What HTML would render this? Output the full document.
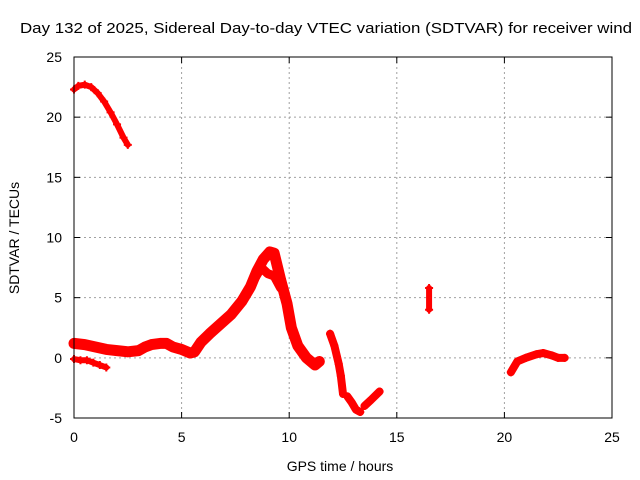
<!DOCTYPE html>
<html><head><meta charset="utf-8"><style>
body{margin:0;background:#fff;}
svg{display:block;font-family:"Liberation Sans",sans-serif;}
</style></head><body>
<svg id="chart" width="640" height="480">
<text x="20" y="33" font-size="14.5" textLength="612" lengthAdjust="spacingAndGlyphs" fill="#000">Day 132 of 2025, Sidereal Day-to-day VTEC variation (SDTVAR) for receiver wind</text>
<g id="grid"></g>
<g id="ticks"></g>
<g id="series"></g>
<rect x="74" y="57" width="538" height="361" fill="none" stroke="#000" stroke-width="1"/>
<text x="340" y="471" font-size="14" text-anchor="middle">GPS time / hours</text>
<text transform="translate(19,238) rotate(-90)" font-size="14" text-anchor="middle">SDTVAR / TECUs</text>
</svg>
<script>
const xTicks=[0,5,10,15,20,25];
const yTicks=[-5,0,5,10,15,20,25];
const segTop=[[0,22.3],[0.2,22.6],[0.5,22.7],[0.8,22.5],[1.1,22.0],[1.4,21.3],[1.7,20.4],[2.0,19.4],[2.3,18.3],[2.5,17.7]];
const segLow=[[0,-0.1],[0.3,-0.2],[0.6,-0.2],[0.9,-0.4],[1.2,-0.6],[1.5,-0.8]];
const segMain=[[0,1.2],[0.5,1.1],[1.0,0.9],[1.5,0.7],[2.0,0.6],[2.5,0.5],[3.0,0.6],[3.3,0.9],[3.6,1.1],[4.0,1.2],[4.3,1.2],[4.6,0.9],[5.0,0.7],[5.4,0.4],[5.6,0.5],[5.9,1.3],[6.3,2.0],[6.8,2.8],[7.3,3.6],[7.8,4.7],[8.2,5.9],[8.5,7.2],[8.8,8.2],[9.1,8.8],[9.3,8.7],[9.6,6.5],[9.9,4.5],[10.1,2.5],[10.4,1.0],[10.8,0.0],[11.2,-0.6],[11.4,-0.3]];
const segDip=[[8.4,6.6],[8.7,7.5],[9.0,7.0],[9.3,6.8],[9.6,5.8]];
const segD=[[11.9,2.0],[12.1,1.0],[12.3,-0.5],[12.4,-1.5],[12.5,-3.0]];
const segE=[[12.7,-3.2],[12.9,-3.7],[13.1,-4.3],[13.3,-4.5]];
const segE2=[[13.5,-4.0],[13.8,-3.5],[14.2,-2.8]];
const segF=[[16.5,5.8],[16.5,4.0]];
const segG=[[20.3,-1.2],[20.6,-0.3],[21.0,0.0],[21.5,0.3],[21.8,0.4],[22.2,0.2],[22.5,0.0],[22.8,0.0]];
const NS="http://www.w3.org/2000/svg";
const X0=74,X1=612,Y0=418,Y1=57;
function sx(v){return X0+(v-0)/25*(X1-X0);}
function sy(v){return Y0-(v+5)/30*(Y0-Y1);}
const grid=document.getElementById('grid'),ticks=document.getElementById('ticks'),ser=document.getElementById('series');
function mk(tag,attrs,parent){const e=document.createElementNS(NS,tag);for(const k in attrs)e.setAttribute(k,attrs[k]);parent.appendChild(e);return e;}
xTicks.forEach(t=>{
  const x=sx(t);
  if(t>0&&t<25){const g=mk('line',{x1:x,x2:x,y1:Y1,y2:Y0,stroke:'#a0a0a0','stroke-dasharray':'2,3'},grid);
  
  }
  mk('line',{x1:x,x2:x,y1:Y0,y2:Y0-6,stroke:'#000'},ticks);
  mk('line',{x1:x,x2:x,y1:Y1,y2:Y1+6,stroke:'#000'},ticks);
  const l=mk('text',{x:x,y:Y0+24,'font-size':14,'text-anchor':'middle'},ticks);l.textContent=t;
  
  
});
yTicks.forEach(t=>{
  const y=sy(t);
  if(t>-5&&t<25){const g=mk('line',{x1:X0,x2:X1,y1:y,y2:y,stroke:'#a0a0a0','stroke-dasharray':'2,3'},grid);
  
  }
  mk('line',{x1:X0,x2:X0+6,y1:y,y2:y,stroke:'#000'},ticks);
  mk('line',{x1:X1,x2:X1-6,y1:y,y2:y,stroke:'#000'},ticks);
  const l=mk('text',{x:X0-12,y:y+5,'font-size':14,'text-anchor':'end'},ticks);l.textContent=t;
  
  
});
function draw(seg,w,name){
  const p=mk('polyline',{points:seg.map(d=>sx(d[0])+','+sy(d[1])).join(' '),fill:'none',stroke:'#ff0000','stroke-width':w,'stroke-linejoin':'round','stroke-linecap':'round'},ser);
  
  
  seg.forEach(d=>{
    const x=sx(d[0]),y=sy(d[1]);
    const m=mk('path',{d:`M${x-4},${y}H${x+4}M${x},${y-4}V${y+4}`,stroke:'#ff0000','stroke-width':2},ser);
    
    
  });
}
draw(segTop,6,'series-early-high');
draw(segLow,6,'series-early-low');
draw(segMain,11,'series-main');
draw(segDip,9,'series-peak-dip');
draw(segD,8,'series-segment-12h');
draw(segE,8,'series-segment-13h');
draw(segE2,8,'series-segment-14h');
draw(segF,6,'series-segment-16h');
draw(segG,8,'series-segment-21h');
</script>
</body></html>
